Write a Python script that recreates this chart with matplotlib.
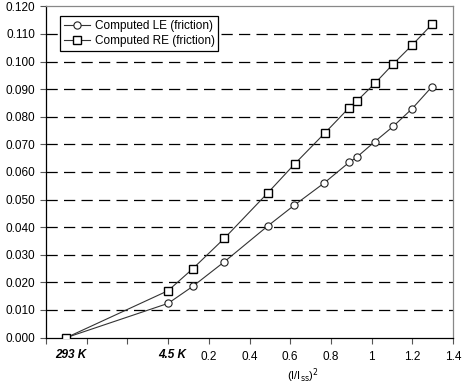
import matplotlib.pyplot as plt
import matplotlib.transforms as mtransforms

plt.rcParams["font.family"] = ["Liberation Sans", "DejaVu Sans"]

# (I/Iss)^2 positions; -0.5 stands for the 293 K point, 0.0 for 4.5 K
le_x = [-0.5, 0.0, 0.122, 0.277, 0.491, 0.621, 0.767, 0.890, 0.928, 1.016, 1.106, 1.199, 1.297]
le_y = [0.0, 0.0124, 0.0186, 0.0275, 0.0405, 0.0480, 0.0560, 0.0635, 0.0654, 0.0710, 0.0765, 0.0829, 0.0909]

re_x = [-0.5, 0.0, 0.122, 0.277, 0.491, 0.622, 0.769, 0.890, 0.928, 1.019, 1.106, 1.200, 1.297]
re_y = [0.0, 0.0170, 0.0250, 0.0360, 0.0525, 0.0629, 0.0740, 0.0833, 0.0857, 0.0923, 0.0991, 0.1060, 0.1135]

x_ticks = [-0.6, -0.4, -0.2, 0.0, 0.2, 0.4, 0.6, 0.8, 1.0, 1.2, 1.4]
x_labels = ["", "", "", "", "0.2", "0.4", "0.6", "0.8", "1", "1.2", "1.4"]
temp_pos = [-0.5, 0.0]
temp_labels = ["293 K", "4.5 K"]

fig = plt.figure(figsize=(4.63, 3.86), dpi=100)
ax = fig.add_axes([0.0994, 0.1254, 0.8790, 0.8583])

ax.plot(le_x, le_y, color="#333333", lw=0.8, marker="o", ms=5.2,
        mfc="white", mec="#222222", mew=0.8, label="Computed LE (friction)", zorder=3)
ax.plot(re_x, re_y, color="#333333", lw=0.8, marker="s", ms=5.2,
        mfc="white", mec="black", mew=1.0, label="Computed RE (friction)", zorder=3)

ax.set_xlim(-0.6, 1.4)
ax.set_ylim(0, 0.12)
ax.set_xticks(x_ticks, x_labels)
ax.set_yticks([i * 0.01 for i in range(13)])
ax.set_yticklabels([f"{i * 0.01:.3f}" for i in range(13)])
ax.tick_params(direction="out", length=4, width=0.8, labelsize=8.5, color="#555555")
ax.tick_params(axis="x", pad=6)

for i in range(1, 12):
    ax.axhline(i * 0.01, color="black", lw=0.9, ls=(0, (9, 5)), zorder=1)

trans = mtransforms.blended_transform_factory(ax.transData, ax.transAxes)
for xp, lab in zip(temp_pos, temp_labels):
    ax.text(xp + 0.02, -0.053, lab, transform=trans, ha="center", va="center",
            fontsize=8.5, fontweight="bold", fontstyle="italic")

ax.set_xlabel(r"(I/I$_{\mathrm{ss}}$)$^2$", fontsize=8)
ax.xaxis.label.set_va("center")
ax.xaxis.set_label_coords(0.63, -0.116)

for side in ("left", "bottom"):
    ax.spines[side].set_color("black")
    ax.spines[side].set_linewidth(0.9)
for side in ("top", "right"):
    ax.spines[side].set_color("#888888")
    ax.spines[side].set_linewidth(0.9)

leg = ax.legend(loc="upper left", bbox_to_anchor=(0.035, 0.97), fontsize=8.5,
                frameon=True, fancybox=False, edgecolor="black", framealpha=1,
                handlelength=2.2, borderpad=0.3, labelspacing=0.3, handletextpad=0.4,
                borderaxespad=0)
leg.get_frame().set_linewidth(0.9)

fig.savefig("out.png", dpi=100)
